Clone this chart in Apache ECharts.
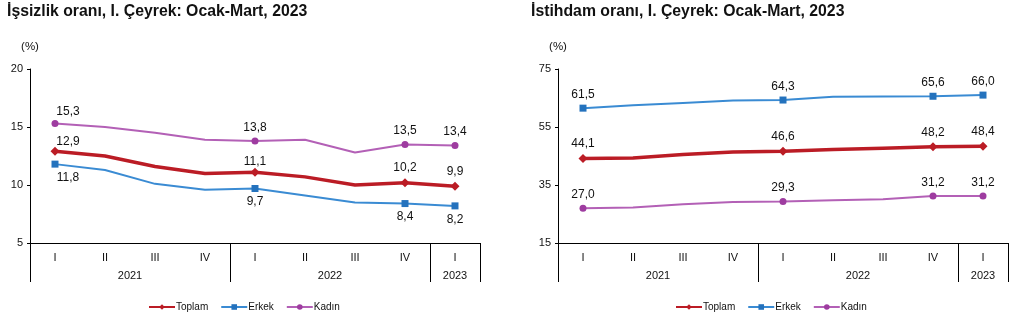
<!DOCTYPE html>
<html>
<head>
<meta charset="utf-8">
<script src="https://cdn.jsdelivr.net/npm/echarts@6/dist/echarts.min.js"></script>
<style>
  html, body { margin: 0; padding: 0; background: #fff; }
  #chart { width: 1020px; height: 328px; }
</style>
</head>
<body>
<div id="chart"></div>
<script>
// Quarter labels and the years they belong to
const quarters = ['I', 'II', 'III', 'IV', 'I', 'II', 'III', 'IV', 'I'];
const years = ['2021', '2022', '2023'];
const yearSpans = [4, 4, 1];

// Unemployment rate (%)
const unempTotal  = [12.9, 12.5, 11.6, 11.0, 11.1, 10.7, 10.0, 10.2, 9.9];
const unempMale   = [11.8, 11.3, 10.1, 9.6, 9.7, 9.1, 8.5, 8.4, 8.2];
const unempFemale = [15.3, 15.0, 14.5, 13.9, 13.8, 13.9, 12.8, 13.5, 13.4];

// Employment rate (%)
const empTotal  = [44.1, 44.3, 45.5, 46.4, 46.6, 47.2, 47.7, 48.2, 48.4];
const empMale   = [61.5, 62.5, 63.3, 64.1, 64.3, 65.4, 65.5, 65.6, 66.0];
const empFemale = [27.0, 27.2, 28.4, 29.1, 29.3, 29.7, 30.1, 31.2, 31.2];

// Quarters that get a marker and a value label
const labelled = [0, 4, 7, 8];

const seriesNames = ['Toplam', 'Erkek', 'Kadın'];
const FONT = 'Liberation Sans, Arial, sans-serif';

// Year group boundaries and centres along the quarter axis
const bounds = [0];
yearSpans.forEach(s => bounds.push(bounds[bounds.length - 1] + s));
const yearCentres = years.map((y, i) => bounds[i] + yearSpans[i] / 2);

const fmt = v => v.toFixed(1).replace('.', ',');

function points(values, offsets) {
  return values.map((v, i) => {
    if (labelled.indexOf(i) < 0) {
      return { value: v, symbol: 'none', label: { show: false } };
    }
    const item = { value: v };
    if (offsets && offsets[i]) item.label = { offset: offsets[i] };
    return item;
  });
}

const styles = {
  Toplam: { color: '#bb1c25', width: 3.5, symbol: 'diamond', size: 9 },
  Erkek:  { color: '#3a8bd3', marker: '#2472bd', width: 2, symbol: 'rect', size: 7 },
  Kadın:  { color: '#b360b6', marker: '#9e3ca0', width: 2, symbol: 'circle', size: 7 }
};

function makeSeries(name, values, grid, pos, offsets) {
  const s = styles[name];
  return {
    name: name,
    type: 'line',
    xAxisIndex: grid * 2,
    yAxisIndex: grid,
    data: points(values, offsets),
    symbol: s.symbol,
    symbolSize: s.size,
    showAllSymbol: true,
    lineStyle: { color: s.color, width: s.width },
    itemStyle: { color: s.marker || s.color },
    label: {
      show: true,
      position: pos,
      distance: 4,
      formatter: p => fmt(p.value),
      color: '#111',
      fontFamily: FONT,
      fontSize: 12
    },
    emphasis: { disabled: true },
    animation: false
  };
}

function catAxis(grid) {
  return {
    type: 'category',
    gridIndex: grid,
    data: quarters,
    boundaryGap: true,
    axisLine: { show: true, lineStyle: { color: '#000', width: 1 } },
    axisTick: { show: false },
    axisLabel: { color: '#111', fontFamily: FONT, fontSize: 11, margin: 9 }
  };
}

function yearAxis(grid) {
  return {
    type: 'value',
    gridIndex: grid,
    position: 'bottom',
    min: 0,
    max: quarters.length,
    axisLine: { show: false },
    splitLine: { show: false },
    axisTick: {
      show: true,
      length: 39,
      customValues: bounds,
      lineStyle: { color: '#000', width: 1 }
    },
    axisLabel: {
      show: true,
      customValues: yearCentres,
      formatter: v => years[yearCentres.indexOf(v)],
      color: '#111',
      fontFamily: FONT,
      fontSize: 11,
      margin: 27
    }
  };
}

function valAxis(grid, min, max, step) {
  return {
    type: 'value',
    gridIndex: grid,
    min: min,
    max: max,
    interval: step,
    name: '(%)',
    nameLocation: 'end',
    nameGap: 16,
    nameTextStyle: { color: '#111', fontFamily: FONT, fontSize: 11.5, align: 'center' },
    axisLine: { show: true, lineStyle: { color: '#000', width: 1 } },
    axisTick: { show: true, length: 3, lineStyle: { color: '#000' } },
    splitLine: { show: false },
    axisLabel: { color: '#111', fontFamily: FONT, fontSize: 11, margin: 7 }
  };
}

function legend(left) {
  return {
    left: left,
    top: 302,
    padding: 0,
    data: seriesNames,
    itemWidth: 26,
    itemHeight: 7,
    itemGap: 12,
    textStyle: { color: '#111', fontFamily: FONT, fontSize: 10, padding: [0, 0, 0, -4] },
    selectedMode: false
  };
}

const option = {
  backgroundColor: '#fff',
  animation: false,
  title: [
    { text: 'İşsizlik oranı, I. Çeyrek: Ocak-Mart, 2023', left: 7, top: 4, padding: 0,
      textStyle: { fontFamily: FONT, fontSize: 15.8, fontWeight: 'bold', color: '#111' } },
    { text: 'İstihdam oranı, I. Çeyrek: Ocak-Mart, 2023', left: 531, top: 4, padding: 0,
      textStyle: { fontFamily: FONT, fontSize: 15.8, fontWeight: 'bold', color: '#111' } }
  ],
  legend: [legend(148), legend(675)],
  grid: [
    { left: 30, top: 69, width: 450, height: 174 },
    { left: 558, top: 69, width: 450, height: 174 }
  ],
  xAxis: [catAxis(0), yearAxis(0), catAxis(1), yearAxis(1)],
  yAxis: [valAxis(0, 5, 20, 5), valAxis(1, 15, 75, 20)],
  series: [
    makeSeries('Toplam', unempTotal, 0, 'top', { 0: [13, 5], 4: [0, 4] }),
    makeSeries('Erkek', unempMale, 0, 'bottom', { 0: [13, 0] }),
    makeSeries('Kadın', unempFemale, 0, 'top', { 0: [13, 2] }),
    makeSeries('Toplam', empTotal, 1, 'top'),
    makeSeries('Erkek', empMale, 1, 'top'),
    makeSeries('Kadın', empFemale, 1, 'top')
  ]
};

const chart = echarts.init(document.getElementById('chart'), null, { renderer: 'canvas' });
chart.setOption(option);
</script>
</body>
</html>
